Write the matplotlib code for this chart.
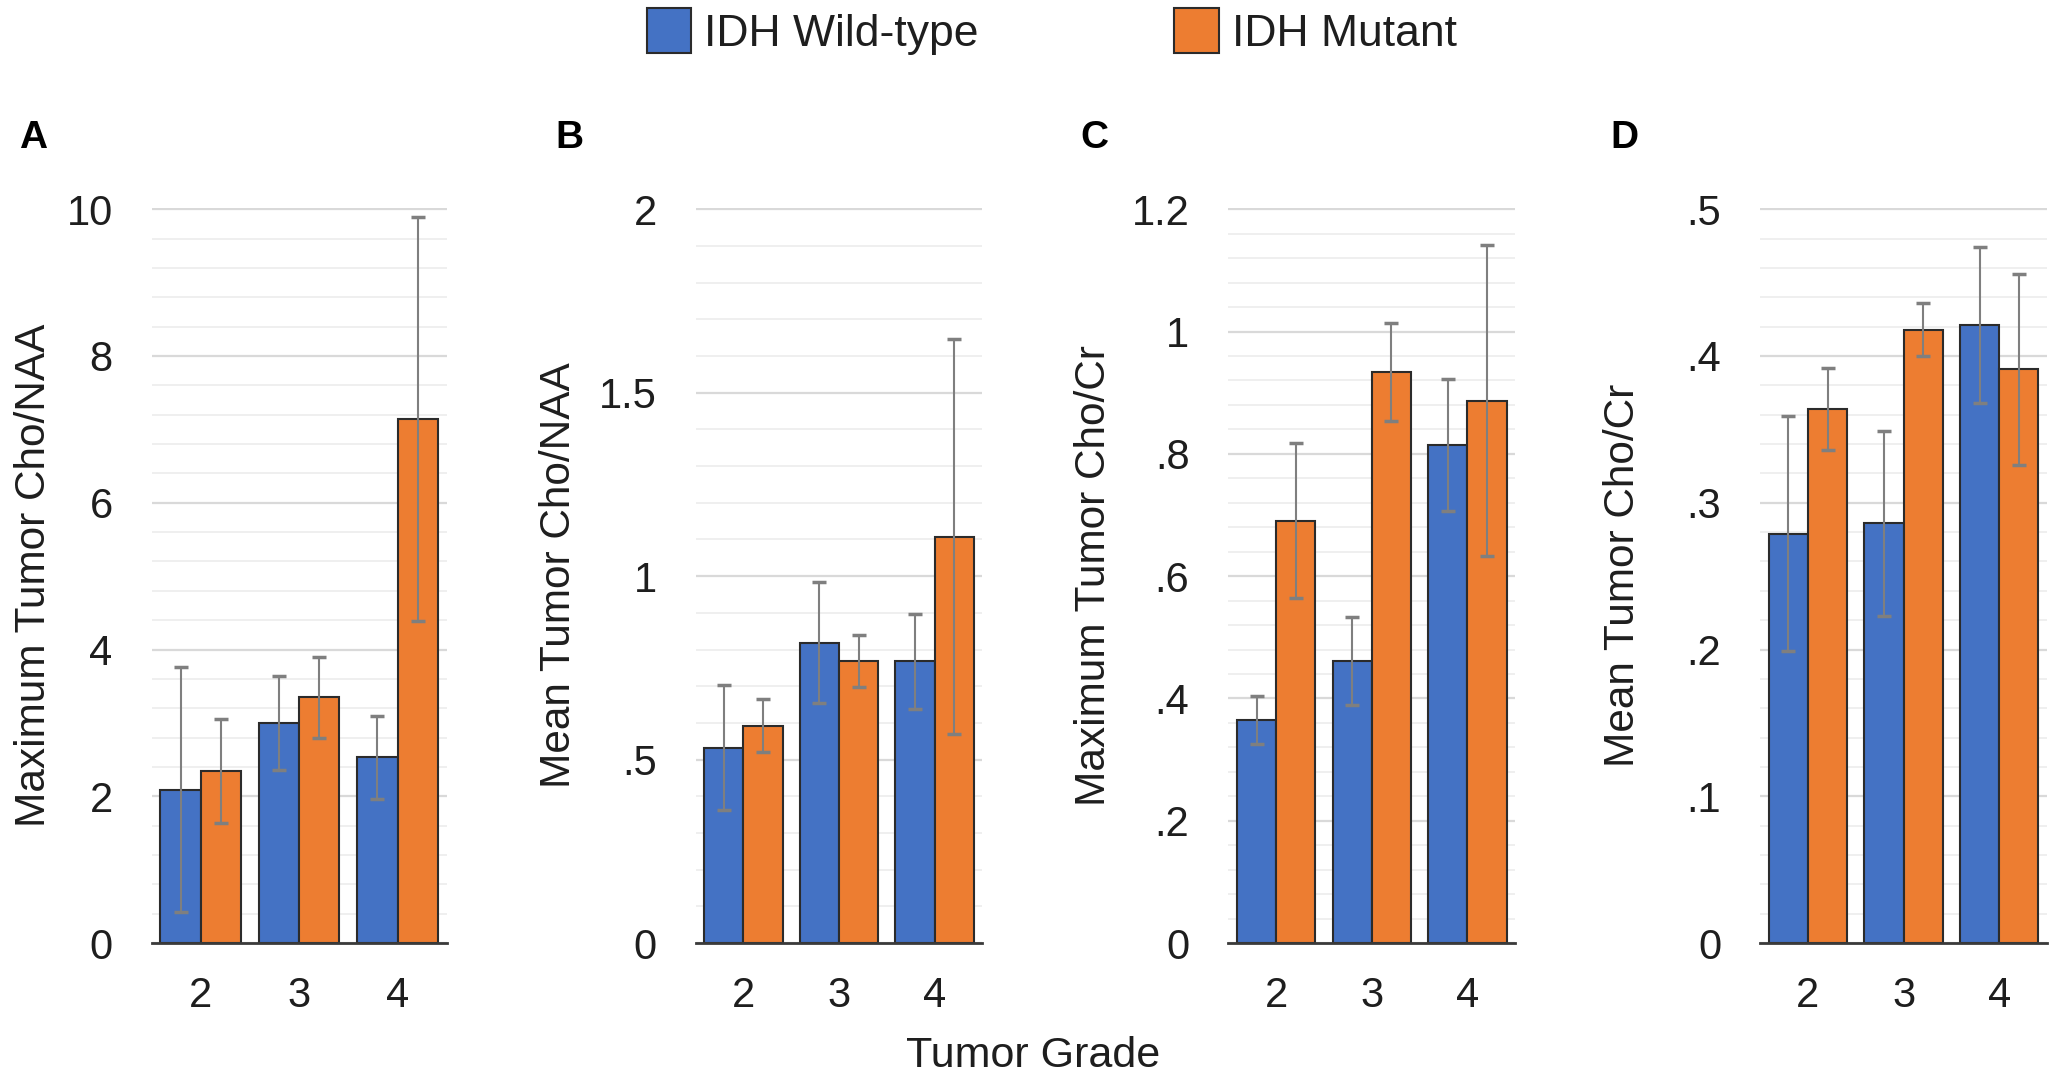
import matplotlib
matplotlib.use("Agg")
import matplotlib.pyplot as plt
import numpy as np
from matplotlib.patches import Patch
from matplotlib.ticker import MultipleLocator

plt.rcParams["font.family"] = ["Liberation Sans", "DejaVu Sans"]

grades = ["2", "3", "4"]
series_names = ["IDH Wild-type", "IDH Mutant"]

a_wt = [2.09, 3.00, 2.53];  a_wt_err = [1.67, 0.64, 0.56]
a_mut = [2.35, 3.35, 7.14]; a_mut_err = [0.71, 0.55, 2.75]
b_wt = [0.533, 0.819, 0.768];  b_wt_err = [0.170, 0.165, 0.130]
b_mut = [0.593, 0.768, 1.108]; b_mut_err = [0.071, 0.071, 0.537]
c_wt = [0.365, 0.462, 0.815];  c_wt_err = [0.039, 0.072, 0.108]
c_mut = [0.691, 0.934, 0.887]; c_mut_err = [0.126, 0.080, 0.254]
d_wt = [0.279, 0.286, 0.421];  d_wt_err = [0.080, 0.063, 0.053]
d_mut = [0.364, 0.418, 0.391]; d_mut_err = [0.028, 0.018, 0.065]

ylabels = ["Maximum Tumor Cho/NAA", "Mean Tumor Cho/NAA",
           "Maximum Tumor Cho/Cr", "Mean Tumor Cho/Cr"]
letters = ["A", "B", "C", "D"]
a_ticks = [0, 2, 4, 6, 8, 10];            a_ticklabels = ["0", "2", "4", "6", "8", "10"]
b_ticks = [0, 0.5, 1, 1.5, 2];            b_ticklabels = ["0", ".5", "1", "1.5", "2"]
c_ticks = [0, 0.2, 0.4, 0.6, 0.8, 1, 1.2]; c_ticklabels = ["0", ".2", ".4", ".6", ".8", "1", "1.2"]
d_ticks = [0, 0.1, 0.2, 0.3, 0.4, 0.5];   d_ticklabels = ["0", ".1", ".2", ".3", ".4", ".5"]
minor_steps = [0.4, 0.1, 0.04, 0.02]

BLUE, ORANGE = "#4472C4", "#ED7D31"
EDGE, ERR, TXT = "#2b2b2b", "#7f7f7f", "#1e1e1e"

panels = [
    (a_wt, a_wt_err, a_mut, a_mut_err, a_ticks, a_ticklabels),
    (b_wt, b_wt_err, b_mut, b_mut_err, b_ticks, b_ticklabels),
    (c_wt, c_wt_err, c_mut, c_mut_err, c_ticks, c_ticklabels),
    (d_wt, d_wt_err, d_mut, d_mut_err, d_ticks, d_ticklabels),
]
lefts = [0.074, 0.3395, 0.5995, 0.859]
widths = [0.144, 0.140, 0.140, 0.140]
labx = [-0.40, -0.477, -0.468, -0.477]
letter_x = [0.0093, 0.271, 0.5274, 0.7857]

fig = plt.figure(figsize=(20.49, 10.79), dpi=100)
x = np.arange(len(grades))
w = 0.41
ekw = dict(ecolor=ERR, elinewidth=1.5, capsize=5, capthick=2.5)

for i, (wt, wte, mu, mue, ticks, tlabels) in enumerate(panels):
    ax = fig.add_axes([lefts[i], 0.1259, widths[i], 0.6816])
    ax.bar(x - w / 2, wt, w, yerr=wte, color=BLUE, edgecolor=EDGE, linewidth=1.5, error_kw=ekw)
    ax.bar(x + w / 2, mu, w, yerr=mue, color=ORANGE, edgecolor=EDGE, linewidth=1.5, error_kw=ekw)
    ax.set_xlim(-0.5, 2.5)
    ax.set_ylim(0, ticks[-1] * 1.002)
    ax.set_xticks(x, grades)
    ax.set_yticks(ticks, tlabels)
    ax.yaxis.set_minor_locator(MultipleLocator(minor_steps[i]))
    ax.grid(axis="y", which="major", color="#d9d9d9", lw=1.6)
    ax.grid(axis="y", which="minor", color="#efefef", lw=1.4)
    ax.set_axisbelow(True)
    for s in ["left", "right", "top"]:
        ax.spines[s].set_visible(False)
    ax.spines["bottom"].set_color("#3a3a3a")
    ax.spines["bottom"].set_linewidth(2)
    ax.tick_params(axis="both", which="both", length=0, labelsize=30, colors=TXT)
    ax.tick_params(axis="x", pad=24)
    ax.tick_params(axis="y", pad=28)
    ax.set_ylabel(ylabels[i], fontsize=30.5, color=TXT, va="center")
    ax.yaxis.set_label_coords(labx[i], 0.5)
    fig.text(letter_x[i], 0.8628, letters[i], fontsize=28, fontweight="bold",
             va="baseline", color="black")

handles = [Patch(facecolor=BLUE, edgecolor=EDGE, lw=1.5),
           Patch(facecolor=ORANGE, edgecolor=EDGE, lw=1.5)]
fig.legend(handles, series_names, loc="center", bbox_to_anchor=(0.5134, 0.971), ncol=2,
           frameon=False, fontsize=32, handlelength=1.0, handleheight=1.2,
           handletextpad=0.3, columnspacing=4.4, labelcolor=TXT)
fig.text(0.504, 0.011, "Tumor Grade", fontsize=31, ha="center", va="baseline", color=TXT)

fig.savefig("out.png", dpi=100)
